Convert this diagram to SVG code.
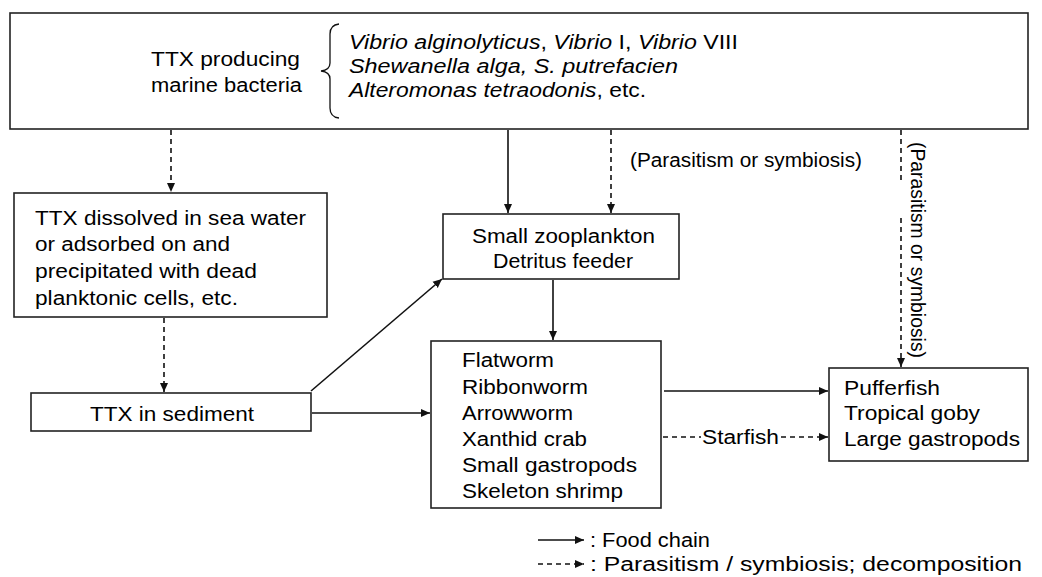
<svg xmlns="http://www.w3.org/2000/svg" width="1042" height="577" viewBox="0 0 1042 577">
<defs>
<style>
.box{fill:#fff;stroke:#222;stroke-width:1.6}
.t{font-family:"Liberation Sans",Arial,sans-serif;font-size:20px;fill:#000}
.i{font-style:italic}
.n{font-style:normal}
.s{stroke:#111;stroke-width:1.6;fill:none}
.d{stroke:#111;stroke-width:1.6;fill:none;stroke-dasharray:5 4}
</style>
<marker id="ah" markerUnits="userSpaceOnUse" markerWidth="10" markerHeight="10" refX="9" refY="5" orient="auto">
<path d="M0,1 L9,5 L0,9 z" fill="#111"/>
</marker>
</defs>
<rect width="1042" height="577" fill="#fff"/>

<g id="bacteria">
<rect class="box" x="10" y="13" width="1018" height="116"/>
<text class="t" x="151" y="66" textLength="149" lengthAdjust="spacingAndGlyphs">TTX producing</text>
<text class="t" x="151" y="92" textLength="151" lengthAdjust="spacingAndGlyphs">marine bacteria</text>
<path class="s" d="M339,24 Q330,25 330,34 L330,63 Q330,70 321,71 Q330,72 330,79 L330,108 Q330,117 339,118" style="stroke-width:1.3"/>
<text class="t" x="349" y="49" textLength="389" lengthAdjust="spacingAndGlyphs"><tspan class="i">Vibrio alginolyticus</tspan>, <tspan class="i">Vibrio</tspan> I, <tspan class="i">Vibrio</tspan> VIII</text>
<text class="t i" x="349" y="73" textLength="329" lengthAdjust="spacingAndGlyphs">Shewanella alga, S. putrefacien</text>
<text class="t" x="349" y="97" textLength="297" lengthAdjust="spacingAndGlyphs"><tspan class="i">Alteromonas tetraodonis</tspan>, etc.</text>
</g>

<g id="dissolved">
<rect class="box" x="14" y="193" width="313" height="124"/>
<text class="t" x="35" y="225" textLength="271" lengthAdjust="spacingAndGlyphs">TTX dissolved in sea water</text>
<text class="t" x="35" y="251" textLength="195" lengthAdjust="spacingAndGlyphs">or adsorbed on and</text>
<text class="t" x="35" y="278" textLength="222" lengthAdjust="spacingAndGlyphs">precipitated with dead</text>
<text class="t" x="35" y="305" textLength="203" lengthAdjust="spacingAndGlyphs">planktonic cells, etc.</text>
</g>

<g id="sediment">
<rect class="box" x="31" y="393" width="280" height="38"/>
<text class="t" x="90" y="421" textLength="164" lengthAdjust="spacingAndGlyphs">TTX in sediment</text>
</g>

<g id="zooplankton">
<rect class="box" x="443" y="214" width="236" height="65"/>
<text class="t" x="472" y="243" textLength="183" lengthAdjust="spacingAndGlyphs">Small zooplankton</text>
<text class="t" x="493" y="268" textLength="140" lengthAdjust="spacingAndGlyphs">Detritus feeder</text>
</g>

<g id="invertebrates">
<rect class="box" x="431" y="341" width="230" height="167"/>
<text class="t" x="462" y="367" textLength="92" lengthAdjust="spacingAndGlyphs">Flatworm</text>
<text class="t" x="462" y="394" textLength="126" lengthAdjust="spacingAndGlyphs">Ribbonworm</text>
<text class="t" x="462" y="420" textLength="111" lengthAdjust="spacingAndGlyphs">Arrowworm</text>
<text class="t" x="462" y="446" textLength="125" lengthAdjust="spacingAndGlyphs">Xanthid crab</text>
<text class="t" x="462" y="472" textLength="175" lengthAdjust="spacingAndGlyphs">Small gastropods</text>
<text class="t" x="462" y="498" textLength="161" lengthAdjust="spacingAndGlyphs">Skeleton shrimp</text>
</g>

<g id="predators">
<rect class="box" x="829" y="368" width="199" height="93"/>
<text class="t" x="844" y="395" textLength="96" lengthAdjust="spacingAndGlyphs">Pufferfish</text>
<text class="t" x="844" y="420" textLength="136" lengthAdjust="spacingAndGlyphs">Tropical goby</text>
<text class="t" x="844" y="446" textLength="176" lengthAdjust="spacingAndGlyphs">Large gastropods</text>
</g>

<g id="connectors">
<line class="d" x1="171" y1="130" x2="171" y2="192" marker-end="url(#ah)"/>
<line class="d" x1="164" y1="318" x2="164" y2="392" marker-end="url(#ah)"/>
<line class="s" x1="312" y1="413" x2="430" y2="413" marker-end="url(#ah)"/>
<line class="s" x1="311" y1="391" x2="442" y2="279" marker-end="url(#ah)"/>
<line class="s" x1="508" y1="130" x2="508" y2="213" marker-end="url(#ah)"/>
<line class="d" x1="611" y1="130" x2="611" y2="213" marker-end="url(#ah)"/>
<text class="t" x="630" y="167" textLength="232" lengthAdjust="spacingAndGlyphs">(Parasitism or symbiosis)</text>
<line class="s" x1="553" y1="280" x2="553" y2="340" marker-end="url(#ah)"/>
<line class="d" x1="901" y1="130" x2="901" y2="182"/>
<line class="d" x1="901" y1="218" x2="901" y2="367" marker-end="url(#ah)"/>
<text class="t" transform="translate(911,142) rotate(90)" x="0" y="0" textLength="216" lengthAdjust="spacingAndGlyphs">(Parasitism or symbiosis)</text>
<line class="s" x1="664" y1="391" x2="828" y2="391" marker-end="url(#ah)"/>
<line class="d" x1="663" y1="437" x2="701" y2="437"/>
<text class="t" x="702" y="444" textLength="77" lengthAdjust="spacingAndGlyphs">Starfish</text>
<line class="d" x1="781" y1="437" x2="828" y2="437" marker-end="url(#ah)"/>
</g>

<g id="legend">
<line class="s" x1="538" y1="540" x2="584" y2="540" marker-end="url(#ah)"/>
<text class="t" x="590" y="547" textLength="120" lengthAdjust="spacingAndGlyphs">: Food chain</text>
<line class="d" x1="538" y1="564" x2="584" y2="564" marker-end="url(#ah)"/>
<text class="t" x="590" y="571" textLength="432" lengthAdjust="spacingAndGlyphs">: Parasitism / symbiosis; decomposition</text>
</g>
</svg>
